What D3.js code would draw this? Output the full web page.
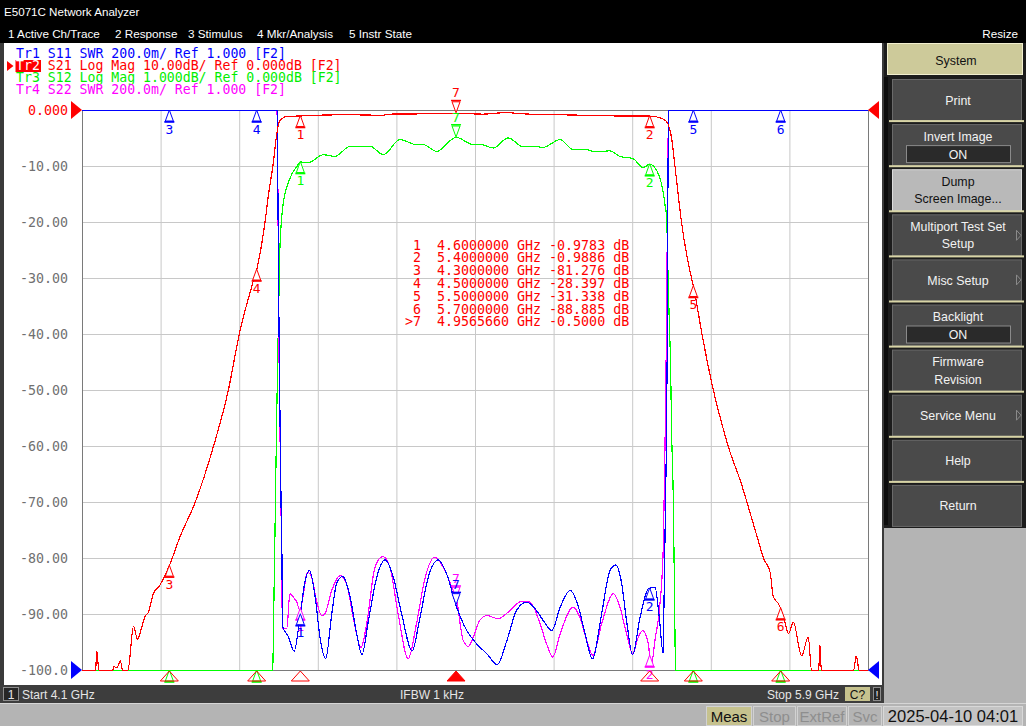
<!DOCTYPE html>
<html>
<head>
<meta charset="utf-8">
<title>E5071C Network Analyzer</title>
<script src="https://cdn.jsdelivr.net/npm/d3@7"></script>
<style>
  html, body { margin: 0; padding: 0; background: #000; overflow: hidden; }
  svg { display: block; }
</style>
</head>
<body>
<div id="screen"></div>
<script>
const startGHz = 4.1;
const stopGHz = 5.9;

// Tr2 S21, dB
const s21Freq = [4.100, 4.131, 4.134, 4.137, 4.140, 4.170, 4.173, 4.180, 4.188, 4.193, 4.205, 4.218, 4.227, 4.236, 4.244, 4.252, 4.263, 4.278, 4.300, 4.324, 4.359, 4.401, 4.435, 4.460, 4.494, 4.500, 4.519, 4.528, 4.537, 4.546, 4.550, 4.557, 4.569, 4.600, 4.645, 4.706, 4.760, 4.782, 4.800, 4.821, 4.897, 4.957, 5.019, 5.045, 5.073, 5.100, 5.126, 5.202, 5.279, 5.355, 5.400, 5.424, 5.439, 5.443, 5.450, 5.458, 5.473, 5.496, 5.500, 5.520, 5.546, 5.569, 5.580, 5.611, 5.623, 5.649, 5.661, 5.676, 5.683, 5.695, 5.700, 5.710, 5.718, 5.729, 5.748, 5.763, 5.771, 5.787, 5.790, 5.793, 5.867, 5.873, 5.880, 5.900];
const s21Db = [-100, -100, -96.6, -99, -100, -100, -99.3, -99.5, -98.3, -100, -100, -92.1, -94.4, -92.5, -90.4, -89.6, -86.4, -84.8, -81.3, -76.2, -70, -60, -50, -40, -30, -28.4, -20, -14.5, -10, -4.2, -2.4, -1.5, -1.07, -0.98, -0.83, -0.77, -0.82, -0.92, -0.7, -0.62, -0.6, -0.5, -0.65, -0.5, -0.36, -0.55, -0.65, -0.77, -0.9, -1.0, -0.99, -1.3, -2.0, -2.6, -4.8, -10, -20, -30, -31.3, -40, -50, -57, -60, -66.9, -70, -76.9, -80, -82.5, -86.8, -88.1, -88.9, -91.5, -93.4, -91.4, -97.4, -94.0, -100, -100, -95.4, -100, -100, -97.4, -100, -100];

// Tr3 S12, dB (1 dB/div)
const s12Freq = [4.100, 4.537, 4.538, 4.542, 4.546, 4.551, 4.553, 4.561, 4.566, 4.572, 4.581, 4.592, 4.600, 4.618, 4.653, 4.679, 4.714, 4.760, 4.790, 4.828, 4.866, 4.882, 4.912, 4.957, 4.996, 5.011, 5.042, 5.076, 5.111, 5.137, 5.155, 5.195, 5.225, 5.248, 5.279, 5.309, 5.332, 5.362, 5.385, 5.400, 5.416, 5.431, 5.436, 5.439, 5.441, 5.445, 5.448, 5.450, 5.454, 5.456, 5.458, 5.459, 5.900];
const s12Db = [-12, -12, -9.5, -7.5, -5.4, -3.3, -2.5, -1.65, -1.45, -1.3, -1.13, -1.0, -0.92, -0.93, -0.79, -0.82, -0.64, -0.64, -0.79, -0.52, -0.61, -0.61, -0.73, -0.48, -0.61, -0.6, -0.67, -0.49, -0.65, -0.64, -0.66, -0.52, -0.7, -0.69, -0.74, -0.72, -0.82, -0.86, -1.02, -0.96, -1.07, -1.46, -1.73, -1.9, -2.6, -3.79, -4.58, -5.64, -6.89, -8.09, -9.38, -12, -12];

// Tr1 S11, SWR
const s11Freq = [4.100, 4.547, 4.550, 4.553, 4.556, 4.558, 4.559, 4.573, 4.586, 4.599, 4.611, 4.621, 4.634, 4.645, 4.658, 4.672, 4.683, 4.697, 4.714, 4.729, 4.741, 4.756, 4.775, 4.794, 4.813, 4.832, 4.856, 4.874, 4.893, 4.916, 4.935, 4.958, 4.981, 5.004, 5.027, 5.051, 5.073, 5.095, 5.118, 5.141, 5.156, 5.176, 5.195, 5.218, 5.237, 5.252, 5.269, 5.290, 5.309, 5.322, 5.336, 5.347, 5.361, 5.378, 5.397, 5.412, 5.422, 5.431, 5.433, 5.434, 5.436, 5.438, 5.440, 5.441, 5.443, 5.444, 5.900];
const s11Swr = [3.6, 3.6, 2.4, 1.96, 1.58, 1.39, 1.16, 1.12, 1.069, 1.19, 1.321, 1.357, 1.262, 1.119, 1.042, 1.202, 1.31, 1.336, 1.262, 1.131, 1.057, 1.179, 1.333, 1.395, 1.333, 1.202, 1.071, 1.19, 1.333, 1.395, 1.345, 1.226, 1.143, 1.095, 1.06, 1.021, 1.107, 1.214, 1.244, 1.214, 1.179, 1.143, 1.226, 1.286, 1.226, 1.131, 1.042, 1.202, 1.357, 1.377, 1.31, 1.179, 1.056, 1.19, 1.292, 1.298, 1.19, 1.06, 1.262, 1.35, 1.58, 1.77, 2.11, 2.43, 3.0, 3.6, 3.6];

// Tr4 S22, SWR
const s22Freq = [4.100, 4.546, 4.548, 4.550, 4.553, 4.556, 4.559, 4.569, 4.576, 4.584, 4.592, 4.599, 4.607, 4.616, 4.626, 4.637, 4.649, 4.656, 4.672, 4.691, 4.706, 4.721, 4.739, 4.752, 4.771, 4.789, 4.805, 4.824, 4.847, 4.866, 4.886, 4.908, 4.927, 4.947, 4.958, 4.973, 4.985, 4.996, 5.011, 5.027, 5.053, 5.080, 5.107, 5.126, 5.149, 5.164, 5.178, 5.195, 5.225, 5.240, 5.256, 5.270, 5.290, 5.317, 5.332, 5.347, 5.361, 5.374, 5.384, 5.397, 5.403, 5.412, 5.422, 5.431, 5.434, 5.437, 5.440, 5.443, 5.445, 5.900];
const s22Swr = [3.6, 3.6, 2.9, 2.3, 1.9, 1.55, 1.15, 1.149, 1.274, 1.262, 1.244, 1.214, 1.274, 1.351, 1.333, 1.25, 1.196, 1.202, 1.286, 1.339, 1.31, 1.19, 1.083, 1.167, 1.369, 1.407, 1.369, 1.202, 1.042, 1.167, 1.333, 1.405, 1.369, 1.298, 1.25, 1.107, 1.086, 1.119, 1.179, 1.196, 1.185, 1.214, 1.248, 1.244, 1.167, 1.095, 1.048, 1.131, 1.226, 1.19, 1.107, 1.054, 1.167, 1.274, 1.226, 1.131, 1.06, 1.119, 1.143, 1.095, 1.012, 1.107, 1.214, 1.429, 1.7, 2.0, 2.5, 3.0, 3.6, 3.6];

const markerNums = [1, 2, 3, 4, 5, 6, 7];
const markerFreq = [4.6, 5.4, 4.3, 4.5, 5.5, 5.7, 4.956566];
const markerDb = [-0.9783, -0.9886, -81.276, -28.397, -31.338, -88.885, -0.5];
const activeMarker = 7;

const yTickLabels = ['0.000', '-10.00', '-20.00', '-30.00', '-40.00', '-50.00', '-60.00', '-70.00', '-80.00', '-90.00', '-100.0'];
const traceLabels = [
  'Tr1 S11 SWR 200.0m/ Ref 1.000 [F2]',
  'Tr2 S21 Log Mag 10.00dB/ Ref 0.000dB [F2]',
  'Tr3 S12 Log Mag 1.000dB/ Ref 0.000dB [F2]',
  'Tr4 S22 SWR 200.0m/ Ref 1.000 [F2]'
];
const menuItems = ['1 Active Ch/Trace', '2 Response', '3 Stimulus', '4 Mkr/Analysis', '5 Instr State'];
const softkeys = [
  { lines: ['Print'] },
  { lines: ['Invert Image'], toggle: 'ON' },
  { lines: ['Dump', 'Screen Image...'], light: true },
  { lines: ['Multiport Test Set', 'Setup'], arrow: true },
  { lines: ['Misc Setup'], arrow: true },
  { lines: ['Backlight'], toggle: 'ON' },
  { lines: ['Firmware', 'Revision'] },
  { lines: ['Service Menu'], arrow: true },
  { lines: ['Help'] },
  { lines: ['Return'] }
];
const statusItems = ['Meas', 'Stop', 'ExtRef', 'Svc'];
const timestamp = '2025-04-10 04:01';

const MONO = "'DejaVu Sans Mono', 'Liberation Mono', monospace";
const SANS = "'Liberation Sans', Arial, sans-serif";

const plot = { left: 82, right: 868, top: 110, bottom: 670 };
const plotW = plot.right - plot.left;
const plotH = plot.bottom - plot.top;

const svg = d3.select('#screen')
  .append('svg')
  .attr('width', 1026)
  .attr('height', 726);

// title + menu bars
svg.append('rect').attr('width', 1026).attr('height', 726).attr('fill', '#000');
svg.append('text')
  .attr('x', 4).attr('y', 16)
  .attr('font-family', SANS).attr('font-size', 11.6)
  .attr('fill', '#fff')
  .text('E5071C Network Analyzer');

const menuX = [8, 115, 188, 257, 349];
svg.selectAll('.menu')
  .data(menuItems)
  .enter()
  .append('text')
  .attr('class', 'menu')
  .attr('x', (d, i) => menuX[i])
  .attr('y', 37.5)
  .attr('font-family', SANS).attr('font-size', 11.7)
  .attr('fill', '#fff')
  .text(d => d);

svg.append('text')
  .attr('x', 1018).attr('y', 37.5)
  .attr('text-anchor', 'end')
  .attr('font-family', SANS).attr('font-size', 11.7)
  .attr('fill', '#fff')
  .text('Resize');

// channel window
svg.append('rect').attr('x', 0).attr('y', 43).attr('width', 884).attr('height', 662).attr('fill', '#3a3a3a');
svg.append('rect').attr('x', 4).attr('y', 43).attr('width', 878).attr('height', 642).attr('fill', '#fff');

const x = d3.scaleLinear().domain([startGHz, stopGHz]).range([plot.left, plot.right]);
const yLog = d3.scaleLinear().domain([-100, 0]).range([plot.bottom, plot.top]).clamp(true);
const yFine = d3.scaleLinear().domain([-10, 0]).range([plot.bottom, plot.top]).clamp(true);
const ySwr = d3.scaleLinear().domain([1, 3]).range([plot.bottom, plot.top]).clamp(true);

const chart = svg.append('g');

const xTicks = d3.range(1, 10).map(i => startGHz + i * (stopGHz - startGHz) / 10);
const yTicks = d3.range(-90, 0, 10);

chart.append('g')
  .attr('class', 'grid')
  .attr('transform', `translate(0,${plot.bottom})`)
  .call(d3.axisBottom(x).tickValues(xTicks).tickSize(-plotH).tickFormat(''));

chart.append('g')
  .attr('class', 'grid')
  .attr('transform', `translate(${plot.left},0)`)
  .call(d3.axisLeft(yLog).tickValues(yTicks).tickSize(-plotW).tickFormat(''));

chart.selectAll('.grid .domain').remove();
chart.selectAll('.grid line').attr('stroke', '#c8c8c8').attr('stroke-width', 1);

chart.append('rect')
  .attr('x', plot.left + 0.5).attr('y', plot.top + 0.5)
  .attr('width', plotW).attr('height', plotH)
  .attr('fill', 'none')
  .attr('stroke', '#7a7a7a');

const yLabelAxis = chart.append('g')
  .attr('transform', `translate(${plot.left},0)`)
  .call(d3.axisLeft(yLog)
    .tickValues(d3.range(0, -101, -10))
    .tickSize(0)
    .tickPadding(14)
    .tickFormat((d, i) => yTickLabels[i]));
yLabelAxis.select('.domain').remove();
yLabelAxis.attr('font-family', MONO).attr('font-size', 13.3);
yLabelAxis.selectAll('text').attr('fill', (d, i) => i === 0 ? '#ff0000' : '#707070');

// reference triangles
const refTri = (g, px, py, dir, color) => g.append('path')
  .attr('d', `M${px},${py}L${px - dir * 11},${py - 9}L${px - dir * 11},${py + 9}Z`)
  .attr('fill', color);
refTri(chart, plot.left, yLog(0), 1, '#ff0000');
refTri(chart, plot.right, yLog(0), -1, '#ff0000');
refTri(chart, plot.left, ySwr(1), 1, '#0000ff');
refTri(chart, plot.right, ySwr(1), -1, '#0000ff');

// traces, drawn bottom to top
const traces = [
  { freq: s12Freq, vals: s12Db, y: yFine, color: '#00ff00' },
  { freq: s22Freq, vals: s22Swr, y: ySwr, color: '#ff00ff' },
  { freq: s11Freq, vals: s11Swr, y: ySwr, color: '#0000ff' },
  { freq: s21Freq, vals: s21Db, y: yLog, color: '#ff0000', main: true }
];

traces.forEach(t => {
  const line = d3.line()
    .x(d => x(d[0]))
    .y(d => t.y(d[1]) + 0.5)
    .curve(d3.curveMonotoneX);
  chart.append('path')
    .datum(d3.zip(t.freq, t.vals))
    .attr('d', line)
    .attr('fill', 'none')
    .attr('stroke', t.color)
    .attr('stroke-width', 1.2)
    .attr('shape-rendering', 'crispEdges');
});

function valueAt(freq, vals, f) {
  const i = d3.bisectLeft(freq, f);
  if (i <= 0) return vals[0];
  if (i >= freq.length) return vals[vals.length - 1];
  const t = (f - freq[i - 1]) / (freq[i] - freq[i - 1]);
  return vals[i - 1] + t * (vals[i] - vals[i - 1]);
}

function drawMarker(g, cx, cy, label, color, active) {
  const m = g.append('g').attr('fill', 'none').attr('stroke', color);
  let ty;
  if (active) {
    m.append('path').attr('d', `M${cx},${cy}L${cx - 4},${cy - 11}L${cx + 4},${cy - 11}Z`).attr('fill', '#fff');
    m.append('rect').attr('x', cx - 5).attr('y', cy - 13).attr('width', 10).attr('height', 1.5).attr('fill', color).attr('stroke', 'none');
    ty = cy - 15.5;
  } else {
    m.append('path').attr('d', `M${cx},${cy}L${cx - 4},${cy + 11}L${cx + 4},${cy + 11}Z`).attr('fill', '#fff');
    m.append('rect').attr('x', cx - 5).attr('y', cy + 11).attr('width', 10).attr('height', 1.8).attr('fill', color).attr('stroke', 'none');
    ty = cy + 23.5;
  }
  // labels that would fall under the status bar are not shown by the instrument
  if (ty < 684) {
    m.append('text')
      .attr('x', cx).attr('y', ty)
      .attr('text-anchor', 'middle')
      .attr('font-family', MONO).attr('font-size', 13)
      .attr('fill', color).attr('stroke', 'none')
      .text(label);
  }
}

const markerSets = traces.map(t => markerNums.map((n, i) => {
  const v = t.main ? markerDb[i] : valueAt(t.freq, t.vals, markerFreq[i]);
  return { n, cx: x(markerFreq[i]), cy: t.y(v), color: t.color };
}));

const markerLayer = chart.append('g');
markerSets.forEach((set, k) => {
  set.forEach(m => {
    const hidden = markerSets.slice(k + 1).some(s => s.some(o =>
      o.n === m.n && Math.abs(o.cx - m.cx) < 0.5 && Math.abs(o.cy - m.cy) < 0.5));
    if (!hidden) drawMarker(markerLayer, m.cx, m.cy, m.n, m.color, m.n === activeMarker);
  });
});

// stimulus indicators on bottom edge
markerNums.forEach((n, i) => {
  const mx = x(markerFreq[i]);
  chart.append('path')
    .attr('d', `M${mx},${plot.bottom + 1}L${mx - 9},${plot.bottom + 11}L${mx + 9},${plot.bottom + 11}Z`)
    .attr('fill', n === activeMarker ? '#ff0000' : 'none')
    .attr('stroke', '#ff0000');
});

// marker table
const tableRows = markerNums.map((n, i) => {
  const f = markerFreq[i].toFixed(7);
  const v = Math.abs(markerDb[i]) < 1 ? markerDb[i].toFixed(4) : markerDb[i].toPrecision(5);
  return `${n === activeMarker ? '>' : ' '}${n}  ${f} GHz ${v} dB`;
});
chart.selectAll('.mkr-row')
  .data(tableRows)
  .enter()
  .append('text')
  .attr('class', 'mkr-row')
  .attr('x', 405)
  .attr('y', (d, i) => 249.5 + i * 12.8)
  .attr('font-family', MONO).attr('font-size', 13.3)
  .attr('fill', '#ff0000')
  .attr('xml:space', 'preserve')
  .style('white-space', 'pre')
  .text(d => d);

// trace legend
const legendColors = ['#0000ff', '#ff0000', '#00ee00', '#ff00ff'];
chart.append('rect').attr('x', 15.5).attr('y', 60).attr('width', 25.5).attr('height', 12).attr('fill', '#ff0000');
chart.append('path').attr('d', 'M7,61L13.5,66L7,71Z').attr('fill', '#ff0000');
chart.selectAll('.legend')
  .data(traceLabels)
  .enter()
  .append('text')
  .attr('class', 'legend')
  .attr('x', 16)
  .attr('y', (d, i) => 57.5 + i * 12)
  .attr('font-family', MONO).attr('font-size', 13.2)
  .style('white-space', 'pre')
  .each(function(d, i) {
    const t = d3.select(this);
    t.append('tspan').attr('fill', i === 1 ? '#fff' : legendColors[i]).text(d.slice(0, 3));
    t.append('tspan').attr('fill', legendColors[i]).text(d.slice(3));
  });

// channel status bar
svg.append('rect').attr('x', 0).attr('y', 685).attr('width', 884).attr('height', 18).attr('fill', '#3d3d3d');
svg.append('rect').attr('x', 3.5).attr('y', 687.5).attr('width', 15).attr('height', 13).attr('fill', '#262626').attr('stroke', '#8c8c8c');
const statusText = (tx, anchor, s) => svg.append('text')
  .attr('x', tx).attr('y', 698.5)
  .attr('text-anchor', anchor)
  .attr('font-family', SANS).attr('font-size', 12)
  .attr('fill', '#e6e6e6')
  .text(s);
statusText(11, 'middle', '1');
statusText(22, 'start', `Start ${startGHz} GHz`);
statusText(400, 'start', 'IFBW 1 kHz');
statusText(839, 'end', `Stop ${stopGHz} GHz`);
svg.append('rect').attr('x', 845).attr('y', 687).attr('width', 25).attr('height', 14).attr('fill', '#c6c28e');
svg.append('text').attr('x', 857.5).attr('y', 698.5).attr('text-anchor', 'middle')
  .attr('font-family', SANS).attr('font-size', 12).attr('fill', '#111').text('C?');
svg.append('rect').attr('x', 873.5).attr('y', 687.5).attr('width', 7).attr('height', 13).attr('fill', '#262626').attr('stroke', '#8c8c8c');
svg.append('text').attr('x', 877).attr('y', 698.5).attr('text-anchor', 'middle')
  .attr('font-family', SANS).attr('font-size', 11).attr('fill', '#e6e6e6').text('!');

// instrument status bar
svg.append('rect').attr('x', 0).attr('y', 703).attr('width', 1026).attr('height', 23).attr('fill', '#b4b4b4');
svg.append('line').attr('x1', 0).attr('x2', 1026).attr('y1', 703.5).attr('y2', 703.5).attr('stroke', '#d6d6d6');
const statusBoxX = [706, 753, 797, 848];
const statusBoxW = [46, 43, 50, 34];
statusItems.forEach((s, i) => {
  svg.append('rect')
    .attr('x', statusBoxX[i] + 0.5).attr('y', 706.5)
    .attr('width', statusBoxW[i] - 1).attr('height', 19)
    .attr('fill', i === 0 ? '#c6c28e' : '#b4b4b4')
    .attr('stroke', '#d2d2d2');
  svg.append('text')
    .attr('x', statusBoxX[i] + statusBoxW[i] / 2).attr('y', 721.5)
    .attr('text-anchor', 'middle')
    .attr('font-family', SANS).attr('font-size', 15)
    .attr('fill', i === 0 ? '#111' : '#8e8e8e')
    .text(s);
});
svg.append('rect').attr('x', 883.5).attr('y', 706.5).attr('width', 139).attr('height', 19).attr('fill', '#c4c4c4').attr('stroke', '#d8d8d8');
svg.append('text').attr('x', 953).attr('y', 721.5).attr('text-anchor', 'middle')
  .attr('font-family', SANS).attr('font-size', 16.5).attr('fill', '#111').text(timestamp);

// softkey panel
svg.append('rect').attr('x', 884).attr('y', 43).attr('width', 142).attr('height', 485).attr('fill', '#1c1c1c');
svg.append('rect').attr('x', 884).attr('y', 528).attr('width', 142).attr('height', 175).attr('fill', '#b4b4b4');
svg.append('rect').attr('x', 887.5).attr('y', 43.5).attr('width', 135).attr('height', 31).attr('fill', '#cdca9a').attr('stroke', '#f2efcf');
svg.append('text').attr('x', 956).attr('y', 64.5).attr('text-anchor', 'middle')
  .attr('font-family', SANS).attr('font-size', 12.4).attr('fill', '#111').text('System');
svg.append('rect').attr('x', 884).attr('y', 77).attr('width', 4).attr('height', 448).attr('fill', '#0c0c0c');

softkeys.forEach((k, i) => {
  const top = 79 + i * 45.1;
  const g = svg.append('g');
  if (i > 0) {
    g.append('rect').attr('x', 889).attr('y', top - 4).attr('width', 135).attr('height', 2).attr('fill', '#d8d4a6');
  }
  g.append('rect')
    .attr('x', 892.5).attr('y', top + 0.5)
    .attr('width', 129).attr('height', 41)
    .attr('fill', k.light ? '#b9b9b9' : '#4a4a4a')
    .attr('stroke', k.light ? '#dcdcdc' : '#6a6a6a');
  const textColor = k.light ? '#111' : '#f2f2f2';
  const rows = k.lines.length + (k.toggle ? 1 : 0);
  k.lines.forEach((s, j) => {
    g.append('text')
      .attr('x', 958)
      .attr('y', rows === 1 ? top + 25.5 : top + 16.5 + j * 17.5)
      .attr('text-anchor', 'middle')
      .attr('font-family', SANS).attr('font-size', 12.4)
      .attr('fill', textColor)
      .text(s);
  });
  if (k.toggle) {
    g.append('rect').attr('x', 906.5).attr('y', top + 21.5).attr('width', 104).attr('height', 17)
      .attr('fill', '#2a2a2a').attr('stroke', '#8a8a8a');
    g.append('text').attr('x', 958).attr('y', top + 34.5).attr('text-anchor', 'middle')
      .attr('font-family', SANS).attr('font-size', 12.4).attr('fill', '#f2f2f2').text(k.toggle);
  }
  if (k.arrow) {
    const cy = top + (k.lines.length > 1 ? 21 : 20.5);
    g.append('path').attr('d', `M1016.5,${cy - 5}L1021,${cy}L1016.5,${cy + 5}Z`)
      .attr('fill', 'none').attr('stroke', '#8a8a8a');
  }
});
</script>
</body>
</html>
